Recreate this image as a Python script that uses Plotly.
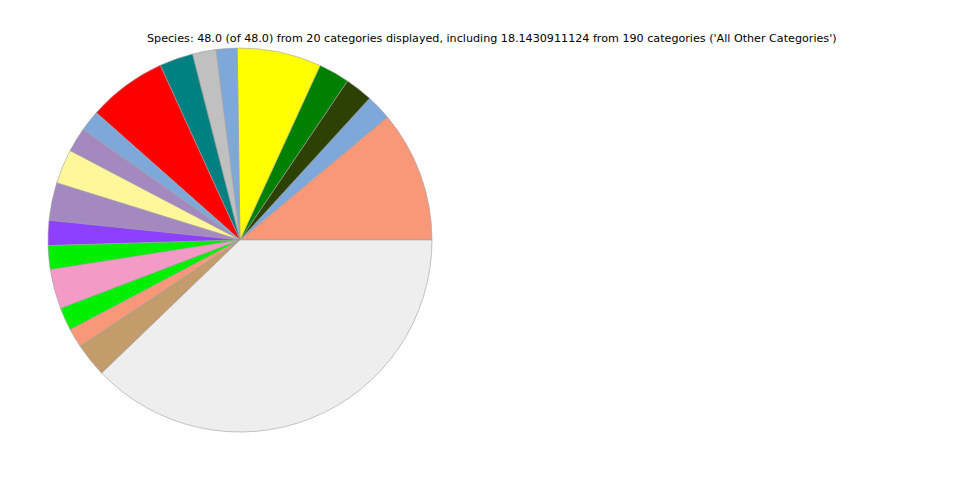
import plotly.graph_objects as go

title_text = "Species: 48.0 (of 48.0) from 20 categories displayed, including 18.1430911124 from 190 categories ('All Other Categories')"

categories = [f"Category {i}" for i in range(1, 20)] + ["All Other Categories"]
values = [5.31, 1.03, 1.12, 1.25, 3.40, 0.85, 0.95, 1.36, 3.19, 0.85,
          0.99, 1.39, 1.52, 1.01, 0.96, 1.60, 0.93, 0.77, 1.37, 18.1430911124]
colors = ["#F99879", "#7EA8D9", "#2D4102", "#008000", "#FFFF00", "#7EA8D9",
          "#C0C0C0", "#008080", "#FF0000", "#7EA8D9", "#A389C0", "#FFF799",
          "#A389C0", "#8F40FF", "#00F000", "#F49AC6", "#00F000", "#F99879",
          "#C49C6C", "#EEEEEE"]

first_angle = values[0] / sum(values) * 360

fig = go.Figure(go.Pie(
    labels=categories,
    values=values,
    marker=dict(colors=colors, line=dict(color="#A0A0A0", width=0.6)),
    sort=False,
    direction="counterclockwise",
    rotation=90 - first_angle,
    textinfo="none",
    hoverinfo="label+value",
    domain=dict(x=[40/960, 424/960], y=[56/480, 440/480]),
    showlegend=False,
))

fig.update_layout(
    width=960, height=480,
    margin=dict(l=0, r=0, t=0, b=0),
    paper_bgcolor="white", plot_bgcolor="white",
    annotations=[dict(text=title_text, x=484.5/960, y=1 - 31/480, xref="paper", yref="paper",
                      xanchor="center", yanchor="middle", showarrow=False,
                      font=dict(family="DejaVu Sans", size=11.15, color="black"))],
)

fig.write_html("out.html")
